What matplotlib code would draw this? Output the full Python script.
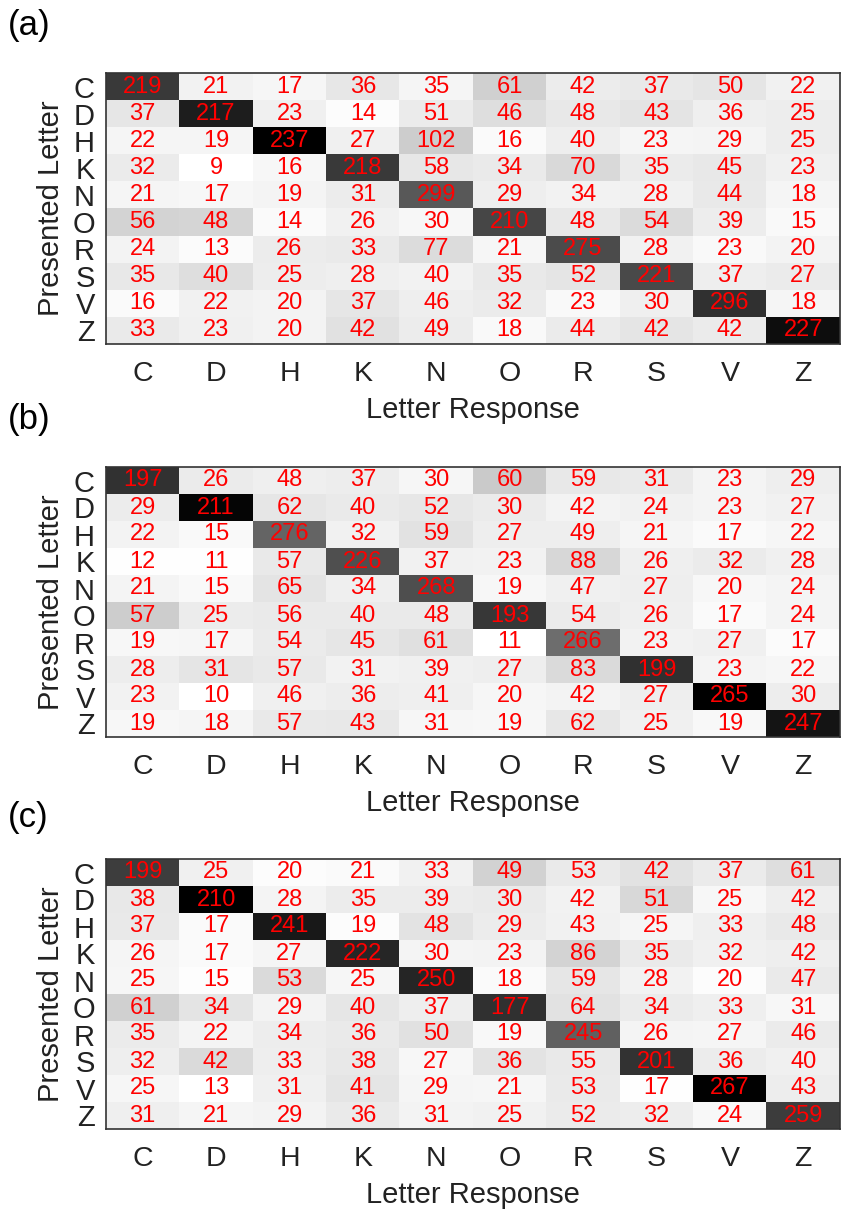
import numpy as np
import matplotlib
matplotlib.use("Agg")
from matplotlib import pyplot as plt

letters = ["C", "D", "H", "K", "N", "O", "R", "S", "V", "Z"]

# rows: presented letter, columns: letter response
counts_a = [
    [219, 21, 17, 36, 35, 61, 42, 37, 50, 22],
    [37, 217, 23, 14, 51, 46, 48, 43, 36, 25],
    [22, 19, 237, 27, 102, 16, 40, 23, 29, 25],
    [32, 9, 16, 218, 58, 34, 70, 35, 45, 23],
    [21, 17, 19, 31, 299, 29, 34, 28, 44, 18],
    [56, 48, 14, 26, 30, 210, 48, 54, 39, 15],
    [24, 13, 26, 33, 77, 21, 275, 28, 23, 20],
    [35, 40, 25, 28, 40, 35, 52, 221, 37, 27],
    [16, 22, 20, 37, 46, 32, 23, 30, 296, 18],
    [33, 23, 20, 42, 49, 18, 44, 42, 42, 227],
]

counts_b = [
    [197, 26, 48, 37, 30, 60, 59, 31, 23, 29],
    [29, 211, 62, 40, 52, 30, 42, 24, 23, 27],
    [22, 15, 276, 32, 59, 27, 49, 21, 17, 22],
    [12, 11, 57, 226, 37, 23, 88, 26, 32, 28],
    [21, 15, 65, 34, 268, 19, 47, 27, 20, 24],
    [57, 25, 56, 40, 48, 193, 54, 26, 17, 24],
    [19, 17, 54, 45, 61, 11, 266, 23, 27, 17],
    [28, 31, 57, 31, 39, 27, 83, 199, 23, 22],
    [23, 10, 46, 36, 41, 20, 42, 27, 265, 30],
    [19, 18, 57, 43, 31, 19, 62, 25, 19, 247],
]

counts_c = [
    [199, 25, 20, 21, 33, 49, 53, 42, 37, 61],
    [38, 210, 28, 35, 39, 30, 42, 51, 25, 42],
    [37, 17, 241, 19, 48, 29, 43, 25, 33, 48],
    [26, 17, 27, 222, 30, 23, 86, 35, 32, 42],
    [25, 15, 53, 25, 250, 18, 59, 28, 20, 47],
    [61, 34, 29, 40, 37, 177, 64, 34, 33, 31],
    [35, 22, 34, 36, 50, 19, 245, 26, 27, 46],
    [32, 42, 33, 38, 27, 36, 55, 201, 36, 40],
    [25, 13, 31, 41, 29, 21, 53, 17, 267, 43],
    [31, 21, 29, 36, 31, 25, 52, 32, 24, 259],
]

panels = [("(a)", counts_a), ("(b)", counts_b), ("(c)", counts_c)]

plt.rcParams["font.family"] = ["Liberation Sans", "DejaVu Sans"]

W, H = 841, 1212
fig = plt.figure(figsize=(W / 100, H / 100), dpi=100)

# axes boxes in pixels: (top, bottom)
boxes = [(73, 344), (467, 737), (859, 1129)]
label_y = [25, 420, 818]
left, right = 106, 840

for (tag, counts), (top, bot), ly in zip(panels, boxes, label_y):
    m = np.array(counts, dtype=float)
    shade = m / m.sum(axis=0)  # colour by share of each response column
    ax = fig.add_axes([left / W, 1 - bot / H, (right - left) / W, (bot - top) / H])
    ax.imshow(shade, cmap="gray_r", aspect="auto", interpolation="nearest")
    for i in range(len(letters)):
        for j in range(len(letters)):
            ax.text(j, i, str(int(m[i, j])), ha="center", va="center",
                    color="red", fontsize=17)
    ax.set_xticks(range(len(letters)))
    ax.set_yticks(range(len(letters)))
    ax.set_xticklabels(letters, fontsize=20.5, color="#222222")
    ax.set_yticklabels(letters, fontsize=21, color="#222222")
    ax.tick_params(length=0)
    ax.tick_params(axis="x", pad=12)
    ax.tick_params(axis="y", pad=8)
    ax.set_xlabel("Letter Response", fontsize=21, color="#222222", labelpad=7)
    ax.set_ylabel("Presented Letter", fontsize=21, color="#222222", labelpad=5)
    for s in ax.spines.values():
        s.set_color("#333333")
        s.set_linewidth(1.2)
    fig.text(8 / W, 1 - ly / H, tag, fontsize=25, ha="left", va="center")

fig.savefig("out.png", dpi=100)
